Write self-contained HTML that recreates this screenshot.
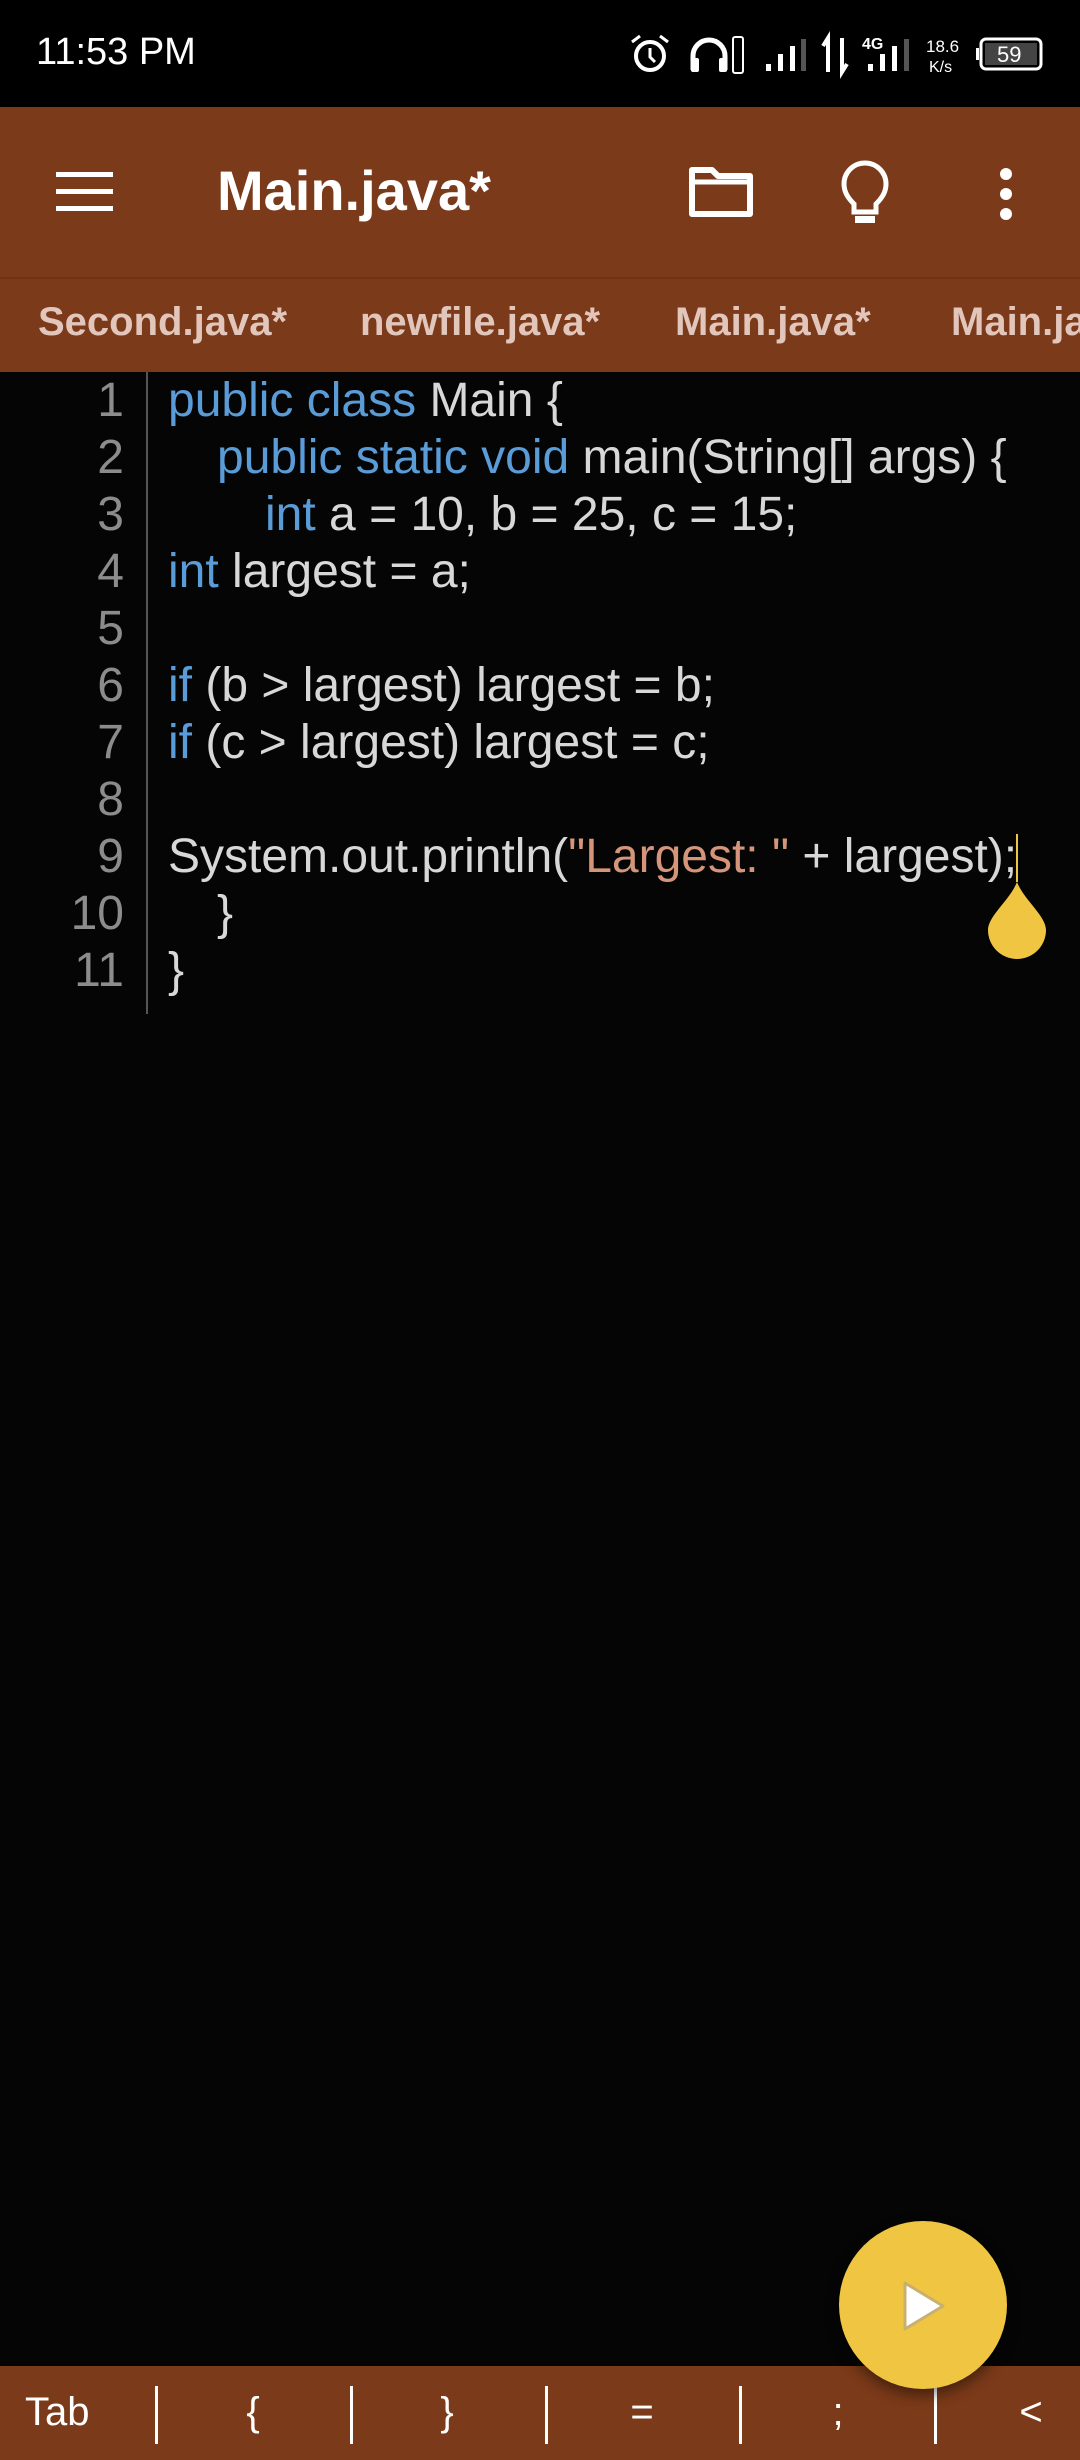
<!DOCTYPE html>
<html><head><meta charset="utf-8"><style>
*{margin:0;padding:0;box-sizing:border-box}
html,body{width:1080px;height:2460px;overflow:hidden}
body{background:#050505;position:relative;font-family:"Liberation Sans",sans-serif}
.a{position:absolute;white-space:nowrap}
.code{font-size:48px;color:#D8D8D8;line-height:57px;height:57px}
.kw{color:#5A9CD8}
.st{color:#D4957A}
.ln{font-size:48px;color:#8C8C8C;width:124px;text-align:right;line-height:57px;height:57px;left:0}
.sep{position:absolute;top:2386px;width:3px;height:58px;background:#fff}
.bk{position:absolute;font-size:40px;color:#fff;top:2390px;transform:translateX(-50%)}
.tab{position:absolute;top:300px;font-size:40px;color:#E2C6BC;font-weight:bold;white-space:nowrap;overflow:hidden}
</style></head><body>
<div class="a" style="left:0;top:0;width:1080px;height:107px;background:#000"></div>
<div class="a" style="left:36px;top:31px;font-size:38px;color:#fff">11:53 PM</div>
<svg class="a" style="left:600px;top:20px" width="480" height="87" viewBox="0 0 480 87">
<circle cx="50" cy="36" r="14" fill="none" stroke="#fff" stroke-width="4"/>
<path d="M50 28v9l5 5" stroke="#fff" stroke-width="3" fill="none"/>
<path d="M32 22l8-6M68 22l-8-6" stroke="#fff" stroke-width="3"/>
<path d="M93 50v-14a16 16 0 0 1 32 0v14" stroke="#fff" stroke-width="5" fill="none"/>
<rect x="91" y="38" width="8" height="14" rx="2" fill="#fff"/><rect x="119" y="38" width="8" height="14" rx="2" fill="#fff"/>
<rect x="133" y="17" width="10" height="36" rx="2" fill="none" stroke="#fff" stroke-width="2"/>
<rect x="166" y="44" width="5" height="7" fill="#fff"/><rect x="178" y="34" width="5" height="17" fill="#fff"/><rect x="190" y="26" width="5" height="25" fill="#fff"/><rect x="201" y="19" width="5" height="32" fill="#555"/>
<path d="M228 52V18l-5 8M242 18v34l5-8" stroke="#fff" stroke-width="4" fill="none"/>
<text x="262" y="29" font-size="16" font-weight="bold" fill="#fff" font-family="Liberation Sans">4G</text>
<rect x="268" y="44" width="5" height="7" fill="#fff"/><rect x="280" y="34" width="5" height="17" fill="#fff"/><rect x="292" y="26" width="5" height="25" fill="#fff"/><rect x="304" y="19" width="5" height="32" fill="#555"/>
<text x="326" y="32" font-size="17" fill="#fff" font-family="Liberation Sans">18.6</text>
<text x="329" y="52" font-size="16" fill="#fff" font-family="Liberation Sans">K/s</text>
<rect x="381" y="19" width="60" height="30" rx="5" fill="none" stroke="#fff" stroke-width="3"/>
<rect x="376" y="28" width="3" height="12" fill="#fff"/>
<rect x="385" y="23" width="52" height="22" fill="#444"/>
<text x="397" y="42" font-size="22" fill="#fff" font-family="Liberation Sans">59</text>
</svg>
<div class="a" style="left:0;top:107px;width:1080px;height:170px;background:#7B3A19"></div>
<div class="a" style="left:56px;top:172px;width:57px;height:5px;background:#fff"></div>
<div class="a" style="left:56px;top:189px;width:57px;height:5px;background:#fff"></div>
<div class="a" style="left:56px;top:206px;width:57px;height:5px;background:#fff"></div>
<div class="a" style="left:217px;top:158px;font-size:56px;color:#fff;font-weight:bold">Main.java*</div>
<svg class="a" style="left:688px;top:166px" width="66" height="52"><path d="M4 4h20l6 6h32v38H4z" fill="none" stroke="#fff" stroke-width="6" stroke-linejoin="round"/><path d="M4 16h58" stroke="#fff" stroke-width="5"/></svg>
<svg class="a" style="left:840px;top:160px" width="50" height="70"><path d="M14 44c-6-6-10-12-10-20a21 21 0 0 1 42 0c0 8-4 14-10 20v8H14z" fill="none" stroke="#fff" stroke-width="5"/><rect x="15" y="56" width="20" height="7" fill="#fff"/></svg>
<div class="a" style="left:1000px;top:168px;width:12px;height:12px;border-radius:6px;background:#fff"></div>
<div class="a" style="left:1000px;top:188px;width:12px;height:12px;border-radius:6px;background:#fff"></div>
<div class="a" style="left:1000px;top:208px;width:12px;height:12px;border-radius:6px;background:#fff"></div>
<div class="a" style="left:0;top:277px;width:1080px;height:95px;background:#7B3A19;border-top:2px solid #6E3314"></div>
<div class="tab" style="left:38px;width:300px">Second.java*</div>
<div class="tab" style="left:360px;width:300px">newfile.java*</div>
<div class="tab" style="left:675px;width:260px">Main.java*</div>
<div class="tab" style="left:951px;width:129px">Main.java*</div>
<div class="a" style="left:146px;top:372px;width:2px;height:642px;background:#555"></div>
<div class="a ln" style="top:372px">1</div>
<div class="a ln" style="top:429px">2</div>
<div class="a ln" style="top:486px">3</div>
<div class="a ln" style="top:543px">4</div>
<div class="a ln" style="top:600px">5</div>
<div class="a ln" style="top:657px">6</div>
<div class="a ln" style="top:714px">7</div>
<div class="a ln" style="top:771px">8</div>
<div class="a ln" style="top:828px">9</div>
<div class="a ln" style="top:885px">10</div>
<div class="a ln" style="top:942px">11</div>
<div class="a code" style="left:168px;top:372px"><span class="kw">public class</span> Main {</div>
<div class="a code" style="left:217px;top:429px"><span class="kw">public static void</span> main(String[] args) {</div>
<div class="a code" style="left:265px;top:486px"><span class="kw">int</span> a = 10, b = 25, c = 15;</div>
<div class="a code" style="left:168px;top:543px"><span class="kw">int</span> largest = a;</div>
<div class="a code" style="left:168px;top:657px"><span class="kw">if</span> (b &gt; largest) largest = b;</div>
<div class="a code" style="left:168px;top:714px"><span class="kw">if</span> (c &gt; largest) largest = c;</div>
<div class="a code" style="left:168px;top:828px">System.out.println(<span class="st">"Largest: "</span> + largest);</div>
<div class="a code" style="left:217px;top:885px">}</div>
<div class="a code" style="left:168px;top:942px">}</div>
<div class="a" style="left:1016px;top:834px;width:2px;height:48px;background:#F0C542"></div>
<svg class="a" style="left:986px;top:880px" width="62" height="80"><path d="M31 2C24 20 2 36 2 50a29 29 0 0 0 58 0C60 36 38 20 31 2z" fill="#F0C542"/></svg>
<div class="a" style="left:0;top:2366px;width:1080px;height:94px;background:#7B3A19"></div>
<div class="a" style="left:25px;top:2390px;font-size:40px;color:#fff">Tab</div>
<div class="sep" style="left:155px"></div><div class="sep" style="left:350px"></div><div class="sep" style="left:545px"></div><div class="sep" style="left:739px"></div><div class="sep" style="left:934px"></div>
<div class="bk" style="left:253px">{</div>
<div class="bk" style="left:447px">}</div>
<div class="bk" style="left:642px">=</div>
<div class="bk" style="left:838px">;</div>
<div class="bk" style="left:1031px">&lt;</div>
<div class="a" style="left:839px;top:2221px;width:168px;height:168px;border-radius:50%;background:#F0C542;box-shadow:0 6px 14px rgba(0,0,0,.45)"></div>
<svg class="a" style="left:900px;top:2280px" width="50" height="52"><path d="M5 3L43 26L5 49z" fill="#fff" stroke="#C8B070" stroke-width="3" stroke-linejoin="round"/></svg>
</body></html>
